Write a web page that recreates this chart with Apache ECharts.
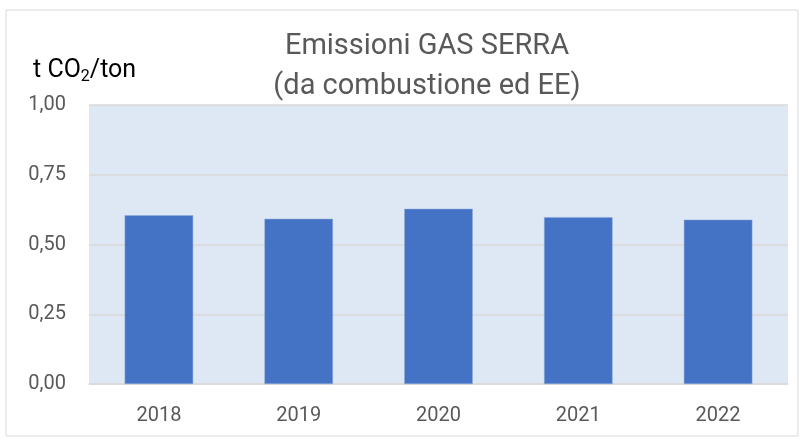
<!DOCTYPE html>
<html>
<head>
<meta charset="utf-8">
<script src="https://cdn.jsdelivr.net/npm/echarts@6/dist/echarts.min.js"></script>
<style>
  html, body { margin: 0; padding: 0; background: #fff; }
  #chart { width: 802px; height: 440px; }
</style>
</head>
<body>
<div id="chart"></div>
<script>
// anni e valori
const years = ['2018', '2019', '2020', '2021', '2022'];
const emissioni = [0.605, 0.592, 0.628, 0.598, 0.589];
const titleLines = ['Emissioni GAS SERRA', '(da combustione ed EE)'];

const txt = '#595959';
const font = 'Roboto';

const chart = echarts.init(document.getElementById('chart'));

chart.setOption({
  animation: false,
  textStyle: {fontFamily: font},
  graphic: [{
    type: 'rect',                 // cornice esterna
    shape: {x: 6, y: 10, width: 792, height: 426},
    style: {fill: 'none', stroke: '#d9d9d9', lineWidth: 1},
    silent: true
  }],
  title: {
    text: titleLines.join('\n'),
    left: 422,
    textAlign: 'center',
    top: 22,
    textStyle: {color: txt, fontSize: 29, fontWeight: 'normal', lineHeight: 40, fontFamily: font}
  },
  grid: {
    left: 89, right: 14, top: 105, bottom: 56,
    show: true,
    backgroundColor: '#dee8f4',
    borderWidth: 0
  },
  xAxis: {
    type: 'category',
    data: years,
    axisTick: {show: false},
    axisLine: {lineStyle: {color: '#d9d9d9', width: 1.5}},
    axisLabel: {color: txt, fontSize: 20, margin: 22}
  },
  yAxis: {
    type: 'value',
    min: 0, max: 1, interval: 0.25,
    name: '{a|t CO}{s|2}{a|/ton}',
    nameLocation: 'end',
    nameGap: 20,
    nameTextStyle: {
      align: 'left',
      padding: [0, 0, 0, -56],
      rich: {
        a: {fontSize: 25, color: '#000', fontFamily: font},
        s: {fontSize: 16, color: '#000', fontFamily: font, verticalAlign: 'bottom', padding: [12, 0, 0, 0]}
      }
    },
    axisLine: {show: false},
    axisTick: {show: false},
    splitLine: {lineStyle: {color: '#d9d9d9', width: 1.5}},
    axisLabel: {
      color: txt, fontSize: 20, margin: 23,
      formatter: v => v.toFixed(2).replace('.', ',')
    }
  },
  series: [{
    type: 'bar',
    data: emissioni,
    barWidth: '49%',
    itemStyle: {color: '#4472c4', borderColor: '#8eaadb', borderWidth: 0.5}
  }]
});
</script>
</body>
</html>
